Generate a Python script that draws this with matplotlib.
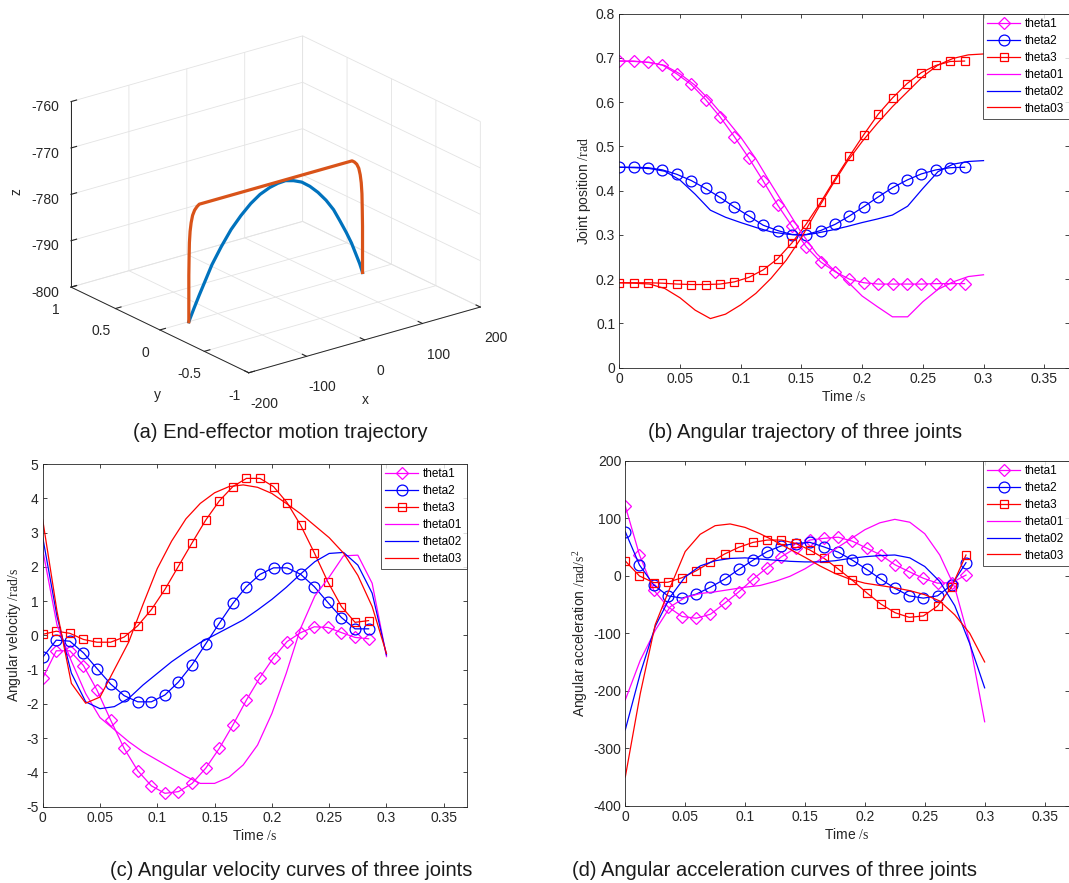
import numpy as np
import matplotlib
matplotlib.use("Agg")
import matplotlib.pyplot as plt

plt.rcParams['font.family'] = ['Liberation Sans', 'DejaVu Sans']
plt.rcParams['mathtext.fontset'] = 'custom'
plt.rcParams['mathtext.rm'] = 'Liberation Serif'
plt.rcParams['mathtext.it'] = 'Liberation Serif:italic'
plt.rcParams['axes.unicode_minus'] = False
plt.rcParams['grid.color'] = '#e3e3e3'
plt.rcParams['grid.linewidth'] = 0.6

# ---------------- data ----------------
# (a) end-effector trajectory (y = 0 plane)
blue_x = [-150, -141, -132, -121, -110, -94, -77, -60, -43, -27, -10, 4, 17, 31, 45, 59, 73, 87, 100, 111, 122, 131, 139, 145, 150]
blue_z = [-800, -797.4, -794.9, -792.0, -789.1, -785.8, -782.7, -780.3, -778.3, -776.9, -776.0, -775.6, -775.5, -776.0, -776.8, -778.2, -780.0, -782.2, -784.7, -787.5, -790.4, -793.0, -795.8, -797.9, -800]
orange_x = [-150, -150, -149.5, -149, -147.8, -146, -143.5, -140, -136, -132, 132, 136, 140, 143.5, 146, 147.8, 149, 149.5, 150, 150]
orange_z = [-800, -790, -786, -783, -780.6, -778.8, -777.3, -776.3, -775.7, -775.3, -775.3, -775.7, -776.3, -777.3, -778.8, -780.6, -783, -786, -790, -800]

# time grids
t_mk = np.linspace(0, 0.2844, 25)   # marked series
t_ln = np.linspace(0, 0.3, 25)      # plain series

# (b) joint position /rad
pos_theta1 = [0.693, 0.693, 0.690, 0.684, 0.664, 0.640, 0.606, 0.567, 0.522, 0.474, 0.422, 0.368, 0.320,
              0.273, 0.239, 0.217, 0.200, 0.192, 0.189, 0.189, 0.189, 0.189, 0.190, 0.190, 0.190]
pos_theta2 = [0.453, 0.453, 0.452, 0.447, 0.437, 0.423, 0.405, 0.385, 0.363, 0.343, 0.322, 0.310, 0.301,
              0.301, 0.310, 0.324, 0.343, 0.364, 0.386, 0.407, 0.424, 0.438, 0.447, 0.452, 0.453]
pos_theta3 = [0.192, 0.192, 0.192, 0.191, 0.189, 0.188, 0.188, 0.189, 0.194, 0.204, 0.221, 0.246, 0.282,
              0.325, 0.374, 0.427, 0.478, 0.527, 0.573, 0.610, 0.642, 0.667, 0.683, 0.692, 0.693]
pos_theta01 = [0.693, 0.692, 0.690, 0.683, 0.664, 0.638, 0.603, 0.563, 0.521, 0.472, 0.415, 0.360, 0.305,
               0.258, 0.225, 0.196, 0.162, 0.138, 0.115, 0.115, 0.149, 0.177, 0.194, 0.206, 0.210]
pos_theta02 = [0.453, 0.452, 0.450, 0.444, 0.424, 0.392, 0.356, 0.340, 0.328, 0.317, 0.307, 0.302, 0.299,
               0.304, 0.311, 0.319, 0.328, 0.336, 0.345, 0.365, 0.405, 0.443, 0.460, 0.466, 0.468]
pos_theta03 = [0.192, 0.191, 0.189, 0.179, 0.158, 0.130, 0.111, 0.121, 0.142, 0.168, 0.202, 0.243, 0.294,
               0.354, 0.411, 0.465, 0.511, 0.552, 0.590, 0.624, 0.658, 0.684, 0.699, 0.707, 0.709]

# (c) angular velocity /rad/s
vel_theta1 = [-1.25, -0.45, -0.45, -0.88, -1.60, -2.47, -3.30, -3.95, -4.39, -4.61, -4.56, -4.32, -3.88,
              -3.30, -2.62, -1.89, -1.23, -0.65, -0.18, 0.08, 0.25, 0.23, 0.08, -0.06, -0.10]
vel_theta2 = [-0.64, -0.14, -0.17, -0.51, -0.97, -1.42, -1.76, -1.94, -1.94, -1.74, -1.36, -0.86, -0.25,
              0.35, 0.93, 1.42, 1.78, 1.97, 1.97, 1.78, 1.42, 0.96, 0.52, 0.19, 0.19]
vel_theta3 = [0.03, 0.12, 0.06, -0.12, -0.20, -0.20, -0.05, 0.28, 0.75, 1.34, 2.02, 2.70, 3.36,
              3.92, 4.34, 4.58, 4.58, 4.34, 3.87, 3.21, 2.41, 1.56, 0.84, 0.38, 0.43]
vel_theta01 = [2.50, 0.30, -0.75, -1.70, -2.40, -2.75, -3.10, -3.40, -3.64, -3.88, -4.12, -4.32, -4.32,
               -4.14, -3.78, -3.20, -2.28, -1.11, 0.20, 1.15, 1.70, 2.32, 2.34, 1.52, -0.62]
vel_theta02 = [2.86, 0.55, -1.10, -1.94, -2.14, -2.08, -1.84, -1.45, -1.11, -0.77, -0.48, -0.21, 0.01,
               0.23, 0.45, 0.74, 1.05, 1.40, 1.79, 2.15, 2.39, 2.42, 2.05, 1.23, -0.57]
vel_theta03 = [3.37, 0.70, -1.40, -1.98, -1.80, -1.00, -0.20, 0.90, 1.95, 2.75, 3.40, 3.85, 4.16,
               4.34, 4.39, 4.32, 4.14, 3.85, 3.55, 3.20, 2.85, 2.40, 1.75, 0.84, -0.53]

# (d) angular acceleration /rad/s^2
acc_theta1 = [121, 36, -25, -54, -71, -74, -67, -48, -28, -6, 14, 33, 48,
              62, 65, 67, 60, 48, 36, 19, 7, -4.5, -13, -12, 1]
acc_theta2 = [76.5, 18.6, -16, -35, -39, -32, -20, -6, 11, 27, 42, 52, 56,
              58, 50, 41, 27, 11, -6, -22, -35, -39, -35, -16, 22.6]
acc_theta3 = [25.6, -0.5, -12, -11.4, -3.5, 8.7, 23.3, 37.8, 49.4, 58, 62, 62, 56.2,
              44.7, 30.3, 11.7, -8, -29.6, -49.2, -64.3, -72.4, -70, -52.7, -19.1, 36]
acc_theta01 = [-216, -147, -95, -54, -38, -31, -28, -24, -20, -17, -10, -1, 12,
               28, 46, 63, 80, 92, 98, 93, 73, 36, -20, -115, -254]
acc_theta02 = [-268, -170, -88, -37, -2, 17, 26, 30, 31, 29, 27, 25, 24,
               24, 26, 30, 33, 35, 36, 31, 16, -10, -52, -118, -195]
acc_theta03 = [-350, -205, -85, -20, 42, 72, 87, 90, 84, 73, 60, 46, 32,
               17, 4, -6, -13, -17, -21, -26, -33, -44, -68, -100, -150]

series_names = ['theta1', 'theta2', 'theta3', 'theta01', 'theta02', 'theta03']
x_ticks = [0, 0.05, 0.1, 0.15, 0.2, 0.25, 0.3, 0.35]
x_ticklabels = ['0', '0.05', '0.1', '0.15', '0.2', '0.25', '0.3', '0.35']
captions = ['(a) End-effector motion trajectory', '(b) Angular trajectory of three joints',
            '(c) Angular velocity curves of three joints', '(d) Angular acceleration curves of three joints']

# ---------------- figure ----------------
W, H = 1069, 883
fig = plt.figure(figsize=(W / 100, H / 100), dpi=100)
TXT = '#262626'

def fr(x0, y0, x1, y1):
    return [x0 / W, 1 - y1 / H, (x1 - x0) / W, (y1 - y0) / H]

# ---- (a) 3D ----
ax3 = fig.add_axes(fr(10, 0, 530, 420), projection='3d', proj_type='ortho')
ax3.computed_zorder = False
ax3.plot(blue_x, [0] * len(blue_x), blue_z, color='#0072BD', lw=2.3)
ax3.plot(orange_x, [0] * len(orange_x), orange_z, color='#D95319', lw=2.3)
ax3.set_xlim(-200, 200)
ax3.set_ylim(-1, 1)
ax3.set_zlim(-800, -760)
ax3.set_xticks([-200, -100, 0, 100, 200])
ax3.set_yticks([-1, -0.5, 0, 0.5, 1])
ax3.set_yticklabels(['-1', '-0.5', '0', '0.5', '1'])
ax3.set_zticks([-800, -790, -780, -770, -760])
ax3.view_init(elev=21.7, azim=-127.5)
ax3.set_box_aspect((1, 1, 0.684), zoom=1.06)
for axis in (ax3.xaxis, ax3.yaxis, ax3.zaxis):
    axis.set_pane_color((1, 1, 1, 0))
    axis.pane.set_edgecolor('#e3e3e3')
    axis.line.set_color(TXT)
    axis.line.set_linewidth(0.7)
    axis._axinfo['grid'].update({'color': '#e3e3e3', 'linewidth': 0.6})
    axis._axinfo['tick']['inward_factor'] = 0.0
    axis._axinfo['tick']['outward_factor'] = 0.3
ax3.tick_params(labelsize=10, colors=TXT, pad=2)
ax3.tick_params(axis='x', pad=6)
ax3.zaxis.set_rotate_label(False)
ax3.set_zlabel('z', fontsize=10, color=TXT, rotation=90, labelpad=0)
fig.text(365 / W, 1 - 400 / H, 'x', fontsize=10, color=TXT, ha='center', va='center')
fig.text(157 / W, 1 - 395 / H, 'y', fontsize=10, color=TXT, ha='center', va='center')

# ---- 2D panels ----
def style(ax, ylim, yticks, ylabel):
    ax.set_xlim(0, 0.37)
    ax.set_ylim(*ylim)
    ax.set_xticks(x_ticks)
    ax.set_xticklabels(x_ticklabels)
    ax.set_yticks(yticks)
    ax.tick_params(direction='in', top=True, right=True, length=3, width=0.6,
                   labelsize=10, colors=TXT, pad=3)
    for s in ax.spines.values():
        s.set_color(TXT)
        s.set_linewidth(0.6)
    ax.set_xlabel(r'Time $\mathrm{/s}$', fontsize=10, color=TXT, labelpad=2)
    ax.set_ylabel(ylabel, fontsize=10, color=TXT, labelpad=2)

def draw(ax, d1, d2, d3, d01, d02, d03):
    mk = dict(lw=0.9, markerfacecolor='none', markeredgewidth=0.9)
    ax.plot(t_mk, d1, color='#FF00FF', marker='D', markersize=6, label=series_names[0], **mk)
    ax.plot(t_mk, d2, color='#0000FF', marker='o', markersize=7.8, label=series_names[1], **mk)
    ax.plot(t_mk, d3, color='#FF0000', marker='s', markersize=6.2, label=series_names[2], **mk)
    ax.plot(t_ln, d01, color='#FF00FF', lw=0.9, label=series_names[3])
    ax.plot(t_ln, d02, color='#0000FF', lw=0.9, label=series_names[4])
    ax.plot(t_ln, d03, color='#FF0000', lw=0.9, label=series_names[5])
    leg = ax.legend(loc='upper right', fontsize=8.5, frameon=True, fancybox=False,
                    borderaxespad=0, handlelength=2.8, handletextpad=0.4,
                    labelspacing=0.42, borderpad=0.35)
    leg.get_frame().set_edgecolor(TXT)
    leg.get_frame().set_linewidth(0.7)

axb = fig.add_axes(fr(619.3, 13.7, 1068.5, 367.7))
draw(axb, pos_theta1, pos_theta2, pos_theta3, pos_theta01, pos_theta02, pos_theta03)
style(axb, (0, 0.8), [0, 0.1, 0.2, 0.3, 0.4, 0.5, 0.6, 0.7, 0.8], r'Joint position $\mathrm{/rad}$')
axb.set_yticklabels(['0', '0.1', '0.2', '0.3', '0.4', '0.5', '0.6', '0.7', '0.8'])

axc = fig.add_axes(fr(42.7, 464, 466.7, 806.7))
draw(axc, vel_theta1, vel_theta2, vel_theta3, vel_theta01, vel_theta02, vel_theta03)
style(axc, (-5, 5), list(range(-5, 6)), r'Angular velocity $\mathrm{/rad/s}$')

axd = fig.add_axes(fr(625.3, 460.7, 1068.5, 805.7))
draw(axd, acc_theta1, acc_theta2, acc_theta3, acc_theta01, acc_theta02, acc_theta03)
style(axd, (-400, 200), list(range(-400, 201, 100)), r'Angular acceleration $\mathrm{/rad/s^2}$')

# captions
cap_kw = dict(fontsize=14.5, color='#1a1a1a', va='center')
fig.text(280 / W, 1 - 433 / H, captions[0], ha='center', **cap_kw)
fig.text(805 / W, 1 - 433 / H, captions[1], ha='center', **cap_kw)
fig.text(291 / W, 1 - 870 / H, captions[2], ha='center', **cap_kw)
fig.text(572 / W, 1 - 870 / H, captions[3], ha='left', **cap_kw)

fig.savefig('out.png', dpi=100)
